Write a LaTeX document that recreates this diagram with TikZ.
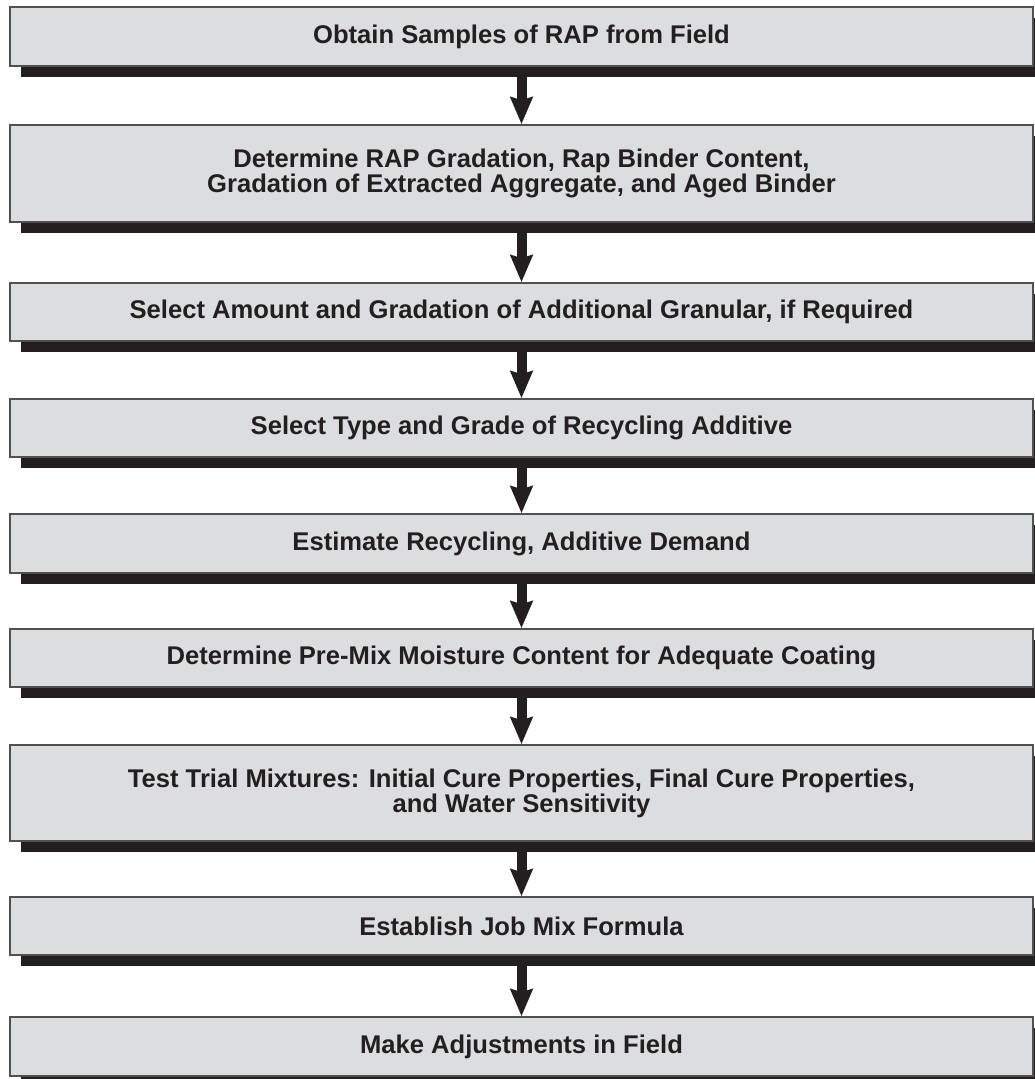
\documentclass[tikz,border=0pt]{standalone}
\usepackage{fontspec}
\setmainfont{Liberation Sans}
\usepackage{xcolor}
\usetikzlibrary{shadows, arrows.meta}
\definecolor{boxgray}{HTML}{DCDDDF}
\definecolor{edgegray}{HTML}{505050}
\definecolor{inkblack}{HTML}{231F20}
\tikzset{
  stepbox/.style={draw=edgegray, line width=1.6pt, fill=boxgray,
    minimum width=1023pt, inner sep=0pt, align=center, text=inkblack,
    font=\fontsize{25.6}{25}\selectfont\bfseries,
    drop shadow={shadow xshift=11pt, shadow yshift=-11pt, fill=inkblack, opacity=1}},
  flow/.style={draw=inkblack, line width=10pt,
    -{Stealth[length=27pt, width=22pt, inset=3pt, fill=inkblack]}}
}
\begin{document}
\begin{tikzpicture}[x=1pt, y=-1pt]
\useasboundingbox (0,0) rectangle (1035,1079);
% 取样
\node[stepbox, minimum height=59pt] (obtain) at (521.5,36.5) {Obtain Samples of RAP from Field};
% 级配与沥青含量
\node[stepbox, minimum height=97pt] (gradation) at (521.5,173.5)
  {Determine RAP Gradation, Rap Binder Content,\\ Gradation of Extracted Aggregate, and Aged Binder};
\node[stepbox, minimum height=58pt] (granular) at (521.5,312)
  {Select Amount and Gradation of Additional Granular, if Required};
% 再生剂
\node[stepbox, minimum height=58pt] (additive) at (521.5,428) {Select Type and Grade of Recycling Additive};
\node[stepbox, minimum height=59pt] (demand) at (521.5,543.5) {Estimate Recycling, Additive Demand};
% 含水量
\node[stepbox, minimum height=58pt] (moisture) at (521.5,658)
  {Determine Pre-Mix Moisture Content for Adequate Coating};
% 试验混合料
\node[stepbox, minimum height=96pt] (trial) at (521.5,793)
  {Test Trial Mixtures: Initial Cure Properties, Final Cure Properties,\\ and Water Sensitivity};
\node[stepbox, minimum height=58pt] (jmf) at (521.5,926) {Establish Job Mix Formula};
% 现场调整
\node[stepbox, minimum height=59pt] (adjust) at (521.5,1046.5) {Make Adjustments in Field};
% 箭头
\draw[flow] (obtain.south) -- (gradation.north);
\draw[flow] (gradation.south) -- (granular.north);
\draw[flow] (granular.south) -- (additive.north);
\draw[flow] (additive.south) -- (demand.north);
\draw[flow] (demand.south) -- (moisture.north);
\draw[flow] (moisture.south) -- (trial.north);
\draw[flow] (trial.south) -- (jmf.north);
\draw[flow] (jmf.south) -- (adjust.north);
\end{tikzpicture}
\end{document}
